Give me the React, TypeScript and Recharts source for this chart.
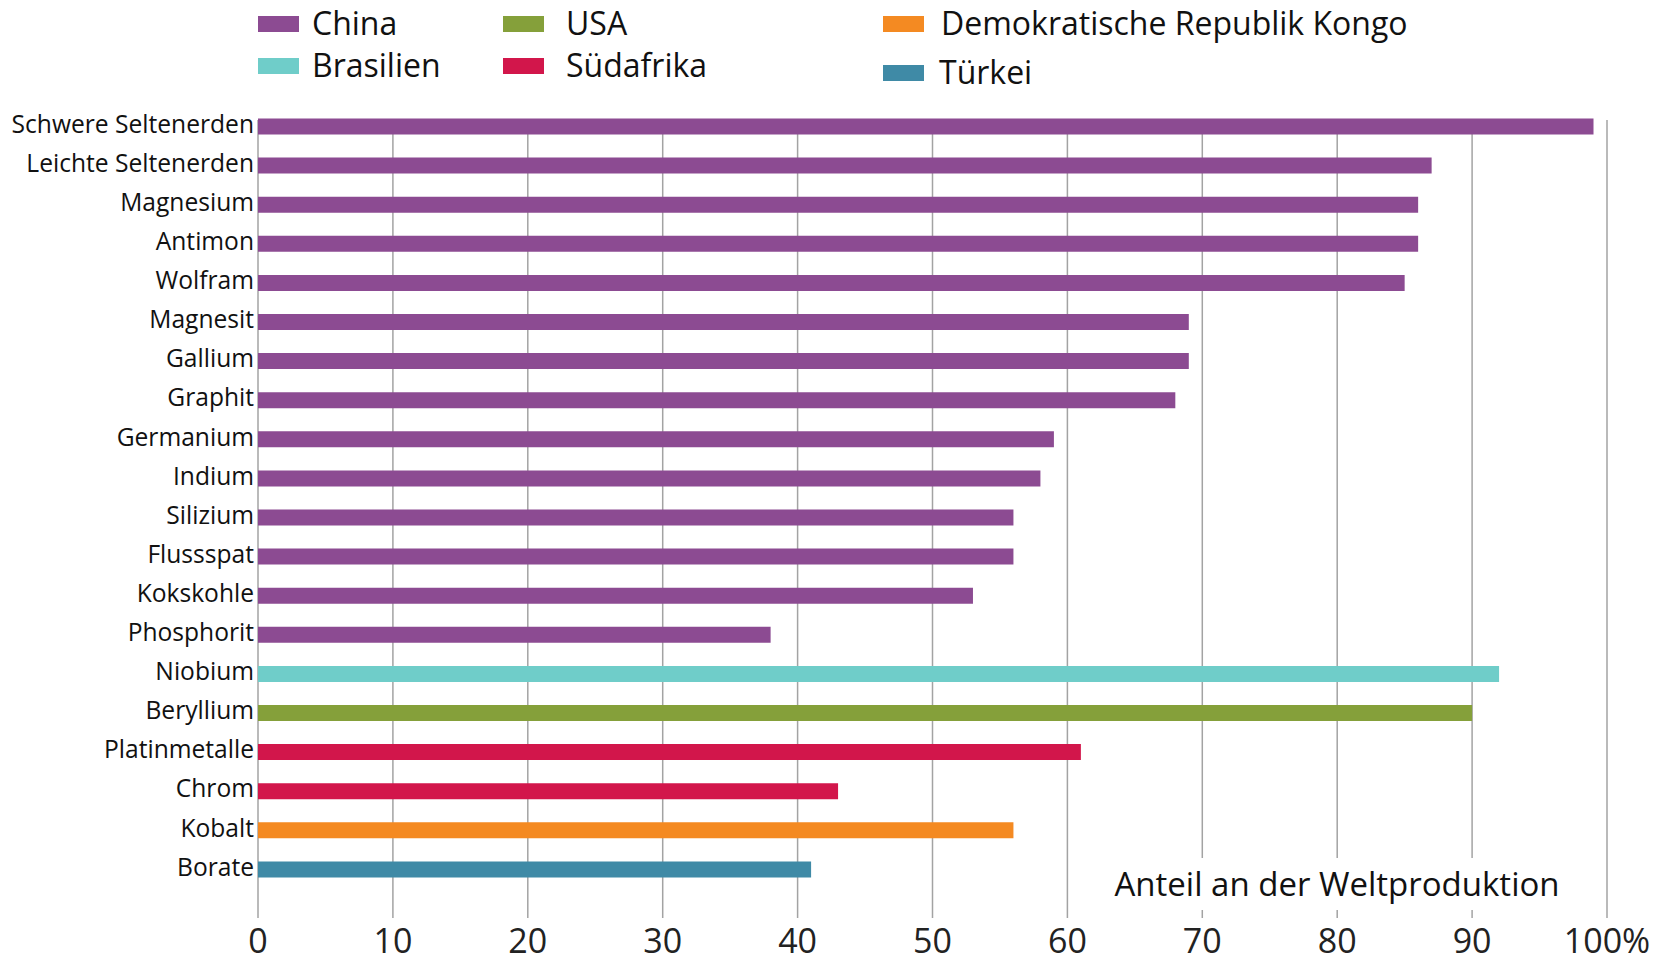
import { Bar, BarChart, CartesianGrid, Cell, XAxis, YAxis } from "recharts";

const minerals = [
  "Schwere Seltenerden",
  "Leichte Seltenerden",
  "Magnesium",
  "Antimon",
  "Wolfram",
  "Magnesit",
  "Gallium",
  "Graphit",
  "Germanium",
  "Indium",
  "Silizium",
  "Flussspat",
  "Kokskohle",
  "Phosphorit",
  "Niobium",
  "Beryllium",
  "Platinmetalle",
  "Chrom",
  "Kobalt",
  "Borate"
];

const shares = [99, 87, 86, 86, 85, 69, 69, 68, 59, 58, 56, 56, 53, 38, 92, 90, 61, 43, 56, 41];

const producers = [
  "China", "China", "China", "China", "China", "China", "China",
  "China", "China", "China", "China", "China", "China", "China",
  "Brasilien", "USA", "Südafrika", "Südafrika", "Demokratische Republik Kongo", "Türkei"
];

const countries = ["China", "Brasilien", "USA", "Südafrika", "Demokratische Republik Kongo", "Türkei"];
const countryColors = ["#8c4b92", "#6fcdc9", "#85a03a", "#d2164b", "#f48a22", "#3f8aa6"];

const xTicks = [0, 10, 20, 30, 40, 50, 60, 70, 80, 90, 100];

const rows = minerals.map((name, i) => ({ name, share: shares[i], producer: producers[i] }));

const colorOf = (country: string) => countryColors[countries.indexOf(country)];

const FONT = "'Open Sans', sans-serif";

// legend slots: swatch x, text x, row top
const legendSlots = [
  { left: 258, text: 312, top: 1 },
  { left: 258, text: 312, top: 43 },
  { left: 503, text: 566, top: 1 },
  { left: 503, text: 566, top: 43 },
  { left: 883, text: 941, top: 1 },
  { left: 883, text: 939, top: 50 }
];

export default function App() {
  return (
    <div style={{ position: "absolute", left: 0, top: 0, width: 1664, height: 963, background: "#fff", overflow: "hidden", fontFamily: FONT }}>
      {countries.map((c, i) => (
        <div key={c} style={{ position: "absolute", left: legendSlots[i].left, top: legendSlots[i].top, height: 44, width: 800 }}>
          <span style={{ position: "absolute", left: 0, top: 15, width: 41, height: 16, background: countryColors[i] }} />
          <span style={{ position: "absolute", left: legendSlots[i].text - legendSlots[i].left, top: 0, lineHeight: "44px", fontSize: 32, color: "#111", whiteSpace: "nowrap" }}>{c}</span>
        </div>
      ))}

      <BarChart
        width={1664}
        height={963}
        data={rows}
        layout="vertical"
        margin={{ top: 120, right: 57, bottom: 0, left: 0 }}
        barCategoryGap={0}
      >
        <CartesianGrid horizontal={false} stroke="#a3a3a3" strokeWidth={1.5} />
        <XAxis
          type="number"
          domain={[0, 100]}
          ticks={xTicks}
          height={45}
          axisLine={false}
          tickLine={false}
          tickSize={0}
          tickMargin={11}
          interval={0}
          tickFormatter={(v: number) => (v === 100 ? "100%" : String(v))}
          tick={{ fontSize: 34, fill: "#222", fontFamily: FONT }}
        />
        <YAxis
          type="category"
          dataKey="name"
          width={258}
          axisLine={false}
          tickLine={false}
          tickSize={0}
          tickMargin={4}
          interval={0}
          padding={{ top: -13.5, bottom: 29.5 }}
          tick={{ fontSize: 24.6, fill: "#111", fontFamily: FONT, dy: -2 }}
        />
        <Bar dataKey="share" barSize={16} isAnimationActive={false}>
          {rows.map((r) => (
            <Cell key={r.name} fill={colorOf(r.producer)} />
          ))}
        </Bar>
      </BarChart>

      <div
        style={{
          position: "absolute",
          left: 1102,
          top: 858,
          width: 470,
          height: 52,
          background: "#fff",
          fontSize: 33,
          color: "#111",
          textAlign: "center",
          lineHeight: "52px",
          whiteSpace: "nowrap"
        }}
      >
        Anteil an der Weltproduktion
      </div>
    </div>
  );
}
